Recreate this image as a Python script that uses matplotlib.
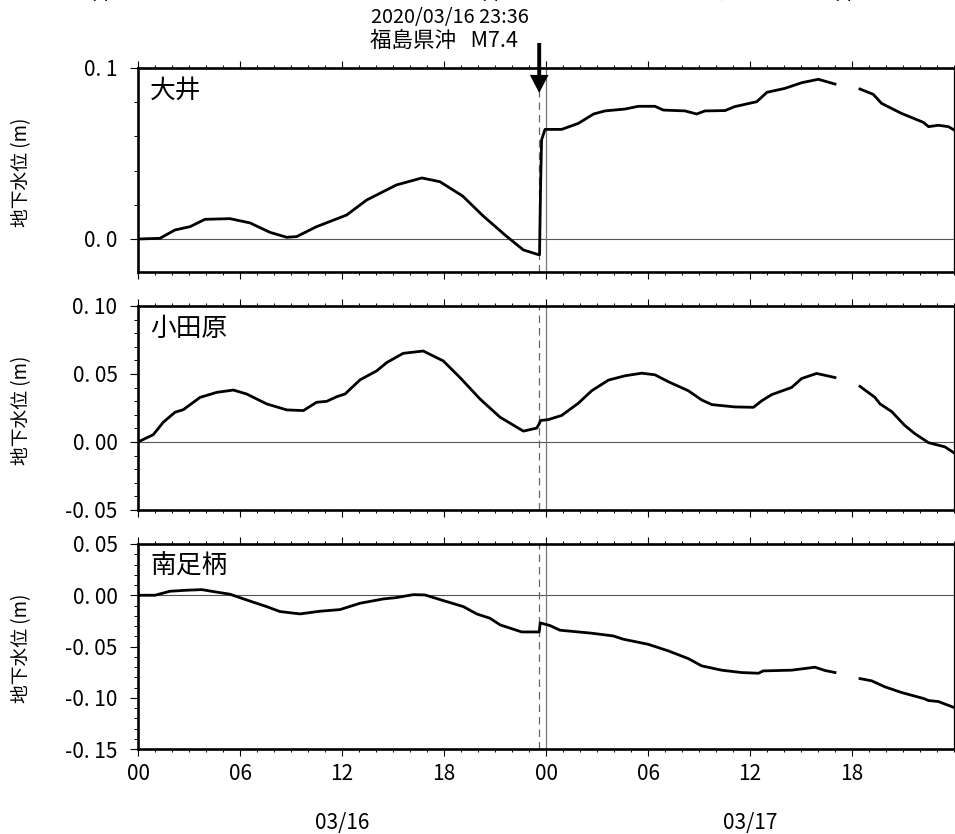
import matplotlib
matplotlib.use("Agg")
import matplotlib.pyplot as plt
import numpy as np
from matplotlib.ticker import MultipleLocator

plt.rcParams["font.family"] = ["Noto Sans CJK JP", "DejaVu Sans"]

W, H = 955, 834
EVENT_HOUR = 23.6
QUAKE_HOUR = 24.0

# nan marks the gap in the record
oi_hours = [0, 1.29, 2.18, 3.06, 3.94, 5.41, 6.59, 7.76, 8.75, 9.33, 10.5, 12.27, 13.45, 15.2, 16.7, 17.76,
            19.1, 20.3, 21.7, 22.67, 23.57, 23.62, 23.68, 23.74, 23.94, 24.92, 25.9, 26.8, 27.47, 28.65, 29.43,
            30.41, 30.9, 32.18, 32.86, 33.35, 34.53, 35.1, 36.4, 37, 38.06, 39.04, 40.02, 41, 41.5,
            42.47, 43.25, 43.74, 44.9, 46.2, 46.5, 47.08, 47.67, 48]
oi_level = [0, 0.0004, 0.0053, 0.0072, 0.0115, 0.0119, 0.0094, 0.0039, 0.001, 0.0014, 0.0072, 0.014, 0.0228,
            0.0316, 0.0357, 0.0335, 0.0251, 0.0135, 0.0014, -0.0064, -0.0092, -0.0092, 0.03, 0.0579, 0.0641,
            0.0641, 0.0676, 0.0731, 0.0749, 0.076, 0.0776, 0.0776, 0.0754, 0.0749, 0.0731, 0.0749, 0.0751,
            0.0774, 0.0803, 0.0858, 0.0881, 0.0914, 0.0934, 0.0906, np.nan,
            0.0877, 0.0846, 0.0793, 0.0735, 0.0682, 0.0657, 0.0665, 0.0657, 0.0638]

odawara_hours = [0, 0.9, 1.49, 2.18, 2.67, 3.65, 4.63, 5.61, 6.39, 7.57, 8.75, 9.73, 10.5, 11.1, 11.69, 12.18,
                 13.06, 14.04, 14.63, 15.6, 16.78, 17.96, 18.94, 20.12, 21.3, 22.67, 23.45, 23.6, 23.68, 24.14,
                 24.92, 25.9, 26.69, 27.67, 28.65, 29.63, 30.41, 31.2, 32.37, 33.16, 33.75, 35.1, 36.2, 36.7,
                 37.27, 38.45, 39.04, 39.92, 41, 41.5, 42.47, 43.35, 43.65, 44.33, 45.1, 45.7, 46.5, 47.47, 48]
odawara_level = [0, 0.0054, 0.0146, 0.0219, 0.0238, 0.0328, 0.0365, 0.0382, 0.0353, 0.028, 0.0236, 0.0231,
                 0.0292, 0.0299, 0.0333, 0.0353, 0.0457, 0.0523, 0.0584, 0.0652, 0.0669, 0.0596, 0.0474,
                 0.0316, 0.0182, 0.008, 0.0102, 0.0134, 0.0158, 0.0165, 0.0195, 0.0285, 0.0377, 0.0455,
                 0.0487, 0.0506, 0.0494, 0.0443, 0.0377, 0.0309, 0.0275, 0.0258, 0.0255, 0.0304, 0.0348,
                 0.0401, 0.0467, 0.0504, 0.0474, np.nan, 0.0409, 0.0328, 0.028, 0.0224, 0.0122, 0.0061,
                 -0.0005, -0.0036, -0.008]

minami_hours = [0, 1, 1.88, 2.86, 3.75, 4.43, 5.41, 6.39, 7.57, 8.35, 9.53, 10.7, 11.88, 13.06, 14.43, 15.2,
                16.2, 16.88, 17.76, 19.14, 19.92, 20.7, 21.3, 22.57, 23.6, 23.66, 24.24, 24.82, 26.67, 27.96,
                28.55, 30.0, 31.2, 32.37, 33.16, 34.33, 35.5, 36.5, 36.78, 38.45, 39.82, 40.41, 41, 41.5,
                42.47, 43.16, 43.94, 44.92, 46.2, 46.5, 47.08, 48]
minami_level = [0, 0, 0.0039, 0.0049, 0.0055, 0.0036, 0.001, -0.0046, -0.0111, -0.0159, -0.0182, -0.0156,
                -0.014, -0.0078, -0.0036, -0.0023, 0.0006, 0.0003, -0.0042, -0.0111, -0.0182, -0.0224,
                -0.0289, -0.0358, -0.0358, -0.027, -0.0296, -0.0341, -0.037, -0.0397, -0.0429, -0.0478,
                -0.0543, -0.0618, -0.0689, -0.0731, -0.0754, -0.0761, -0.0738, -0.0731, -0.0702, -0.0734,
                -0.0754, np.nan, -0.0813, -0.0835, -0.0894, -0.0949, -0.1007, -0.1027, -0.1037, -0.1095]

station_names = ["大井", "小田原", "南足柄"]
hour_ticks = [0, 6, 12, 18, 24, 30, 36, 42]
hour_labels = ["00", "06", "12", "18", "00", "06", "12", "18"]
date_labels = ["03/16", "03/17"]
date_hours = [12, 36]
cut_chars = ["井", "引", "湖", "井", "引", "用", "井"]
cut_x = [102, 227, 358, 492, 618, 717, 845]

panels = [
    (oi_hours, oi_level, station_names[0], (68, 272), (-0.0193, 0.1), [0.0, 0.1], ["0. 0", "0. 1"], 0.02),
    (odawara_hours, odawara_level, station_names[1], (306, 510), (-0.05, 0.10),
     [-0.05, 0.0, 0.05, 0.10], ["-0. 05", "0. 00", "0. 05", "0. 10"], 0.01),
    (minami_hours, minami_level, station_names[2], (544, 749), (-0.15, 0.05),
     [-0.15, -0.10, -0.05, 0.0, 0.05], ["-0. 15", "-0. 10", "-0. 05", "0. 00", "0. 05"], 0.01),
]

fig = plt.figure(figsize=(W / 100, H / 100), dpi=100)

for i, (hours, level, name, (top, bottom), ylim, yticks, ylabels, minor) in enumerate(panels):
    ax = fig.add_axes([138 / W, 1 - bottom / H, (954 - 138) / W, (bottom - top) / H])
    ax.set_xlim(0, 48)
    ax.set_ylim(*ylim)

    ax.axhline(0, color="#555555", lw=0.8, zorder=1)
    ax.axvline(EVENT_HOUR, color="#666666", lw=0.9, ls=(0, (6, 4)), zorder=1)
    ax.axvline(QUAKE_HOUR, color="#777777", lw=0.9, zorder=1)
    ax.plot(hours, level, color="black", lw=2.0, solid_joinstyle="round", zorder=3)

    ax.set_xticks(hour_ticks)
    ax.xaxis.set_minor_locator(MultipleLocator(1))
    ax.set_yticks(yticks)
    ax.set_yticklabels(ylabels, fontsize=15)
    ax.yaxis.set_minor_locator(MultipleLocator(minor))
    ax.tick_params(axis="x", which="major", length=5, width=0.8, top=True, bottom=True, direction="out",
                   labelbottom=(i == 2), labelsize=15, pad=5)
    ax.tick_params(axis="x", which="minor", length=2.5, width=0.7, top=True, bottom=True, direction="out")
    ax.tick_params(axis="y", which="major", length=5.8, width=0.8, pad=9)
    ax.tick_params(axis="y", which="minor", length=3, width=0.7)
    if i == 2:
        ax.set_xticklabels(hour_labels)

    for side in ["top", "bottom", "left"]:
        ax.spines[side].set_linewidth(1.9)
    ax.spines["right"].set_linewidth(0.9)

    ax.text(150 / W, 1 - (top + 23) / H, name, transform=fig.transFigure, fontsize=18.5, va="center", ha="left")
    fig.text(22 / W, 1 - (top + bottom + 4) / 2 / H, "地下水位 (m)", rotation=90, fontsize=13.5, ha="center", va="center")

    if i == 0:
        # arrow tip sits just under the frame, shaft runs up past the top
        ax.annotate("", xy=(EVENT_HOUR, 0.0854), xytext=(0, 36), textcoords="offset points",
                    arrowprops=dict(width=2.8, headwidth=13.5, headlength=13, facecolor="black",
                                    edgecolor="black", shrink=0, lw=0), annotation_clip=False, zorder=5)

fig.text(450 / W, 1 - 18 / H, "2020/03/16 23:36", fontsize=14.3, ha="center", va="center")
fig.text(370 / W, 1 - 41 / H, "福島県沖   M7.4", fontsize=15.5, ha="left", va="center")

# date row under the hour labels
for label, hour in zip(date_labels, date_hours):
    fig.text((138 + hour * 17) / W, 1 - 823 / H, label, fontsize=15, ha="center", va="center")

# leftovers of the row above, cut by the image edge
for ch, x in zip(cut_chars, cut_x):
    fig.text(x / W, 1 - 4 / H, ch, fontsize=15, ha="center", va="bottom")

fig.savefig("out.png", dpi=100, facecolor="white")
